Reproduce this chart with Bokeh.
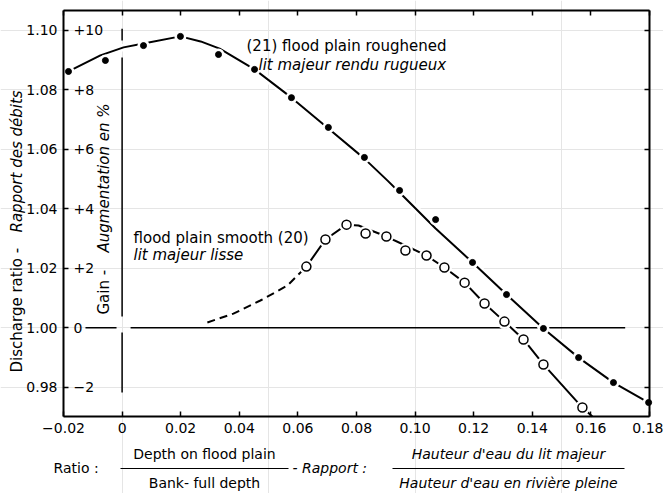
from math import pi
from bokeh.plotting import figure
from bokeh.models import (Label, LinearAxis, FixedTicker, Range1d, Arrow,
                          CustomJSTickFormatter)
from bokeh.embed import file_html
from bokeh.resources import INLINE

FONT = "DejaVu Sans"

# ---------------- data ----------------
x_ticks = [-0.02, 0.0, 0.02, 0.04, 0.06, 0.08, 0.10, 0.12, 0.14, 0.16, 0.18]
y_ticks = [0.98, 1.00, 1.02, 1.04, 1.06, 1.08, 1.10]
gain_labels = ["\u22122", "0", "+2", "+4", "+6", "+8", "+10"]

# (21) flood plain roughened - measured points
rough_x = [-0.0183, -0.0057, 0.0073, 0.0199, 0.0329, 0.0452, 0.0578, 0.0704, 0.0827,
           0.0947, 0.1070, 0.1196, 0.1312, 0.1438, 0.1558, 0.1677, 0.1797]
rough_y = [1.0862, 1.0899, 1.0949, 1.0980, 1.0919, 1.0869, 1.0774, 1.0674, 1.0573,
           1.0462, 1.0364, 1.0220, 1.0112, 0.9998, 0.9900, 0.9816, 0.9749]
# (21) drawn curve
rough_curve_x = [-0.0183, -0.0074, 0.0005, 0.0073, 0.0199, 0.0268, 0.0333, 0.0452, 0.0578,
                 0.0704, 0.0827, 0.0906, 0.0947, 0.1070, 0.1196, 0.1312, 0.1438, 0.1558,
                 0.1677, 0.1797]
rough_curve_y = [1.0862, 1.0916, 1.0943, 1.0956, 1.0980, 1.0963, 1.0939, 1.0869, 1.0774,
                 1.0670, 1.0569, 1.0495, 1.0455, 1.0334, 1.0220, 1.0112, 0.9998, 0.9900,
                 0.9816, 0.9749]

# (20) flood plain smooth - measured points
smooth_x = [0.0629, 0.0694, 0.0766, 0.0831, 0.0902, 0.0967, 0.1039, 0.1100, 0.1169,
            0.1237, 0.1305, 0.1370, 0.1438, 0.1571]
smooth_y = [1.0206, 1.0297, 1.0347, 1.0317, 1.0307, 1.0260, 1.0243, 1.0203, 1.0152,
            1.0082, 1.0021, 0.9961, 0.9877, 0.9732]
# (20) drawn curve, solid part
smooth_curve_x = [0.0629, 0.0694, 0.0766, 0.0807, 0.0902, 0.0967, 0.1039, 0.1100, 0.1169,
                  0.1237, 0.1305, 0.1370, 0.1438, 0.1571, 0.1605]
smooth_curve_y = [1.0206, 1.0297, 1.0347, 1.0344, 1.0307, 1.0277, 1.0243, 1.0203, 1.0152,
                  1.0082, 1.0021, 0.9961, 0.9877, 0.9732, 0.9702]
# (20) drawn curve, dashed (extrapolated) part
smooth_dash_x = [0.0291, 0.0380, 0.0472, 0.0564, 0.0629]
smooth_dash_y = [1.0018, 1.0048, 1.0092, 1.0142, 1.0206]

# reference lines: ratio = 1.00 and depth ratio = 0
ref_h_xs = [[-0.0125, -0.0019], [0.0029, 0.1717]]
ref_h_ys = [[1.0, 1.0], [1.0, 1.0]]
ref_v_xs = [[0.0, 0.0], [0.0, 0.0], [0.0, 0.0]]
ref_v_ys = [[1.1006, 1.0966], [1.0909, 1.0038], [0.9984, 0.9783]]

# plotted data window
X0, X1 = -0.02, 0.18
Y0, Y1 = 0.9702, 1.1067

# ---------------- layout ----------------
W, H = 663, 493
FL, FR, FT, FB = 63, 649, 10, 416          # pixel edges of the drawn frame
sx = (X1 - X0) / (FR - FL)
sy = (Y1 - Y0) / (FB - FT)


def X(px):
    return X0 + (px - FL) * sx


def Y(py):
    return Y1 - (py - FT) * sy


# the canvas itself is the frame, the box is drawn with fixed-location axes
p = figure(width=W, height=H, output_backend="svg", toolbar_location=None,
           x_range=Range1d(X(0), X(W)), y_range=Range1d(Y(H), Y(0)),
           x_axis_location=None, y_axis_location=None,
           min_border_left=0, min_border_right=0, min_border_top=0, min_border_bottom=0)
p.outline_line_color = None
p.background_fill_color = "white"
p.border_fill_color = "white"
p.title.visible = False


def make_axis(ticks, loc, bounds, labels, fmt=None):
    ax = LinearAxis(ticker=FixedTicker(ticks=ticks), fixed_location=loc, bounds=bounds)
    ax.axis_line_width = 2
    ax.axis_line_color = "black"
    ax.major_tick_in = 5
    ax.major_tick_out = 0
    ax.major_tick_line_width = 1.5
    ax.minor_tick_line_color = None
    if labels:
        ax.major_label_text_font = FONT
        ax.major_label_text_font_size = "14px"
        ax.major_label_text_color = "black"
        ax.major_label_standoff = 6
        ax.formatter = fmt
    else:
        ax.major_label_text_color = None
        ax.major_label_standoff = 0
    return ax


xfmt = CustomJSTickFormatter(code="""
if (Math.abs(tick) < 1e-9) return "0";
return (tick < 0 ? "\u2212" : "") + Math.abs(tick).toFixed(2);
""")
yfmt = CustomJSTickFormatter(code="return tick.toFixed(2);")

p.add_layout(make_axis(x_ticks, Y0, (X0, X1), True, xfmt), "below")
p.add_layout(make_axis(x_ticks, Y1, (X0, X1), False), "above")
p.add_layout(make_axis(y_ticks, X0, (Y0, Y1), True, yfmt), "left")
p.add_layout(make_axis(y_ticks, X1, (Y0, Y1), False), "right")

# reference lines
p.multi_line(ref_h_xs, ref_h_ys, line_color="black", line_width=1.5)
p.multi_line(ref_v_xs, ref_v_ys, line_color="black", line_width=1.5)

# white halos so that curves cut the reference lines as in the drawing
p.line(rough_curve_x, rough_curve_y, line_color="white", line_width=7)
p.line(smooth_curve_x, smooth_curve_y, line_color="white", line_width=7)

# curves
p.line(rough_curve_x, rough_curve_y, line_color="black", line_width=2)
p.line(smooth_curve_x, smooth_curve_y, line_color="black", line_width=2)
p.line(smooth_dash_x, smooth_dash_y, line_color="black", line_width=2, line_dash="8 5")

# markers with white halos (the pen lifts around each point)
p.scatter(rough_x, rough_y, size=12, fill_color="white", line_color=None)
p.scatter(rough_x, rough_y, size=6, fill_color="black", line_color="black")
p.scatter(smooth_x, smooth_y, size=15, fill_color="white", line_color=None)
p.scatter(smooth_x, smooth_y, size=9, fill_color="white", line_color="black", line_width=1.5)

# secondary scale (gain in %) written inside the frame
for v, t in zip(y_ticks, gain_labels):
    p.add_layout(Label(x=X(73), y=v, text=t, text_font=FONT, text_font_size="14px",
                       text_align="left", text_baseline="middle", text_color="black"))


def lab(px, py, text, italic=False, align="left", angle=0.0, size="14px"):
    p.add_layout(Label(x=X(px), y=Y(py), text=text, text_font=FONT, text_font_size=size,
                       text_font_style="italic" if italic else "normal",
                       text_align=align, text_baseline="middle", angle=angle,
                       text_color="black"))


# curve annotations
lab(246, 45, "(21) flood plain roughened", size="15px")
lab(258, 64, "lit majeur rendu rugueux", italic=True, size="15px")
lab(133, 237, "flood plain smooth (20)", size="15px")
lab(133, 254, "lit majeur lisse", italic=True, size="15px")

# vertical titles
lab(16, 372, "Discharge ratio - ", angle=pi / 2, size="15px")
lab(16, 232, "Rapport des débits", italic=True, angle=pi / 2, size="15px")
lab(103, 314, "Gain - ", angle=pi / 2, size="15px")
lab(103, 252, "Augmentation en %", italic=True, angle=pi / 2, size="15px")

# x title: Ratio : fraction - Rapport : fraction
lab(53, 467, "Ratio :")
lab(204, 453, "Depth on flood plain", align="center")
lab(204, 482, "Bank- full depth", align="center")
lab(292, 467, "- Rapport :", italic=True)
lab(508, 453, "Hauteur d'eau du lit majeur", italic=True, align="center")
lab(508, 482, "Hauteur d'eau en rivière pleine", italic=True, align="center")

for a, b in [(120, 288), (392, 624)]:
    p.add_layout(Arrow(start=None, end=None, x_start=X(a), y_start=Y(468),
                       x_end=X(b), y_end=Y(468), line_color="black", line_width=1.2))

open("out.html", "w").write(file_html(p, INLINE))
